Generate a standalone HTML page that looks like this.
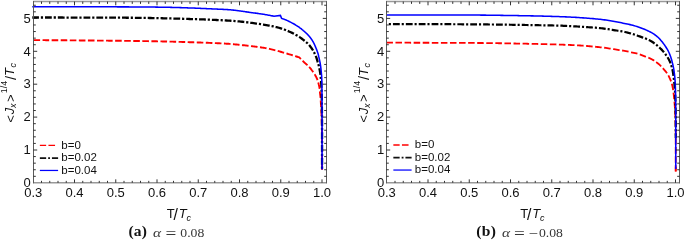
<!DOCTYPE html>
<html><head><meta charset="utf-8"><title>figure</title>
<style>html,body{margin:0;padding:0;background:#fff}svg{display:block}</style>
</head><body>
<svg width="685" height="249" viewBox="0 0 685 249" font-family='"Liberation Sans", Arial, sans-serif' fill="#111">
<rect width="685" height="249" fill="#fff"/>
<g fill="none" stroke-linejoin="round">
<path d="M33.50,40.10 L34.53,40.11 L35.56,40.11 L36.60,40.12 L37.63,40.12 L38.66,40.13 L39.69,40.14 L40.73,40.14 L41.76,40.15 L42.79,40.16 L43.82,40.16 L44.86,40.17 L45.89,40.18 L46.92,40.18 L47.95,40.19 L48.99,40.20 L50.02,40.20 L51.05,40.21 L52.08,40.22 L53.11,40.23 L54.15,40.23 L55.18,40.24 L56.21,40.25 L57.24,40.26 L58.28,40.26 L59.31,40.27 L60.34,40.28 L61.37,40.29 L62.41,40.29 L63.44,40.30 L64.47,40.31 L65.50,40.32 L66.53,40.32 L67.57,40.33 L68.60,40.34 L69.63,40.35 L70.66,40.36 L71.70,40.36 L72.73,40.37 L73.76,40.38 L74.79,40.39 L75.83,40.40 L76.86,40.41 L77.89,40.41 L78.92,40.42 L79.96,40.43 L80.99,40.44 L82.02,40.45 L83.05,40.46 L84.08,40.46 L85.12,40.47 L86.15,40.48 L87.18,40.49 L88.21,40.50 L89.25,40.51 L90.28,40.52 L91.31,40.52 L92.34,40.53 L93.38,40.54 L94.41,40.55 L95.44,40.56 L96.47,40.57 L97.50,40.58 L98.54,40.59 L99.57,40.60 L100.60,40.61 L101.63,40.61 L102.67,40.62 L103.70,40.63 L104.73,40.64 L105.76,40.65 L106.80,40.66 L107.83,40.67 L108.86,40.68 L109.89,40.69 L110.92,40.70 L111.96,40.71 L112.99,40.72 L114.02,40.73 L115.05,40.74 L116.09,40.75 L117.12,40.76 L118.15,40.77 L119.18,40.78 L120.22,40.79 L121.25,40.80 L122.28,40.81 L123.31,40.82 L124.35,40.83 L125.38,40.85 L126.41,40.86 L127.44,40.87 L128.47,40.88 L129.51,40.89 L130.54,40.91 L131.57,40.92 L132.60,40.93 L133.64,40.95 L134.67,40.96 L135.70,40.97 L136.73,40.99 L137.76,41.00 L138.80,41.02 L139.83,41.03 L140.86,41.05 L141.89,41.07 L142.93,41.08 L143.96,41.10 L144.99,41.12 L146.02,41.13 L147.05,41.15 L148.09,41.17 L149.12,41.18 L150.15,41.20 L151.18,41.22 L152.22,41.24 L153.25,41.26 L154.28,41.28 L155.31,41.29 L156.34,41.31 L157.38,41.33 L158.41,41.35 L159.44,41.37 L160.47,41.39 L161.51,41.41 L162.54,41.43 L163.57,41.46 L164.60,41.48 L165.63,41.50 L166.67,41.52 L167.70,41.55 L168.73,41.57 L169.76,41.59 L170.79,41.62 L171.83,41.65 L172.86,41.67 L173.89,41.70 L174.92,41.73 L175.95,41.76 L176.99,41.79 L178.02,41.82 L179.05,41.85 L180.08,41.88 L181.11,41.91 L182.15,41.95 L183.18,41.98 L184.21,42.01 L185.24,42.05 L186.27,42.08 L187.30,42.11 L188.34,42.15 L189.37,42.18 L190.40,42.21 L191.43,42.25 L192.46,42.28 L193.50,42.31 L194.53,42.35 L195.56,42.38 L196.59,42.41 L197.62,42.45 L198.66,42.48 L199.69,42.52 L200.72,42.55 L201.75,42.59 L202.78,42.62 L203.81,42.66 L204.85,42.70 L205.88,42.74 L206.91,42.78 L207.94,42.82 L208.97,42.86 L210.00,42.90 L211.03,42.94 L212.07,42.99 L213.10,43.03 L214.13,43.07 L215.16,43.11 L216.19,43.16 L217.23,43.20 L218.26,43.25 L219.29,43.30 L220.32,43.35 L221.35,43.40 L222.38,43.45 L223.41,43.50 L224.44,43.56 L225.48,43.62 L226.51,43.68 L227.54,43.74 L228.57,43.80 L229.59,43.87 L230.62,43.95 L231.65,44.03 L232.68,44.12 L233.71,44.22 L234.73,44.33 L235.76,44.44 L236.79,44.55 L237.82,44.66 L238.84,44.77 L239.87,44.88 L240.90,44.98 L241.92,45.09 L242.95,45.20 L243.98,45.31 L245.00,45.42 L246.03,45.54 L247.05,45.65 L248.08,45.77 L249.11,45.88 L250.13,46.00 L251.16,46.12 L252.18,46.24 L253.21,46.37 L254.23,46.49 L255.26,46.62 L256.28,46.75 L257.30,46.88 L258.33,47.02 L259.35,47.16 L260.37,47.31 L261.39,47.45 L262.42,47.61 L263.44,47.76 L264.46,47.93 L265.47,48.11 L266.49,48.29 L267.50,48.49 L268.51,48.70 L269.52,48.93 L270.52,49.16 L271.53,49.40 L272.53,49.64 L273.54,49.88 L274.54,50.13 L275.54,50.39 L276.54,50.65 L277.54,50.91 L278.53,51.18 L279.53,51.45 L280.52,51.73 L281.52,52.01 L282.51,52.29 L283.50,52.57 L284.50,52.86 L285.49,53.15 L286.48,53.44 L287.46,53.74 L288.45,54.04 L289.44,54.34 L290.43,54.64 L291.41,54.94 L292.40,55.25 L293.39,55.55 L294.37,55.85 L295.36,56.16 L296.35,56.47 L297.33,56.78 L298.32,57.09 L299.30,57.40 L299.30,57.40 L299.53,57.63 L299.76,57.86 L300.00,58.09 L300.23,58.32 L300.46,58.55 L300.69,58.78 L300.92,59.01 L301.15,59.25 L301.38,59.48 L301.61,59.71 L301.84,59.94 L302.07,60.18 L302.30,60.41 L302.52,60.65 L302.75,60.88 L302.98,61.12 L303.20,61.35 L303.43,61.59 L303.66,61.82 L303.90,62.04 L304.14,62.27 L304.38,62.49 L304.62,62.70 L304.87,62.92 L305.12,63.14 L305.36,63.35 L305.61,63.57 L305.86,63.78 L306.11,63.99 L306.36,64.21 L306.61,64.42 L306.86,64.64 L307.10,64.85 L307.34,65.07 L307.58,65.29 L307.82,65.52 L308.05,65.74 L308.28,65.97 L308.51,66.21 L308.73,66.44 L308.95,66.68 L309.16,66.92 L309.38,67.17 L309.59,67.42 L309.81,67.66 L310.02,67.92 L310.22,68.17 L310.43,68.42 L310.64,68.68 L310.84,68.94 L311.04,69.19 L311.24,69.45 L311.44,69.71 L311.64,69.98 L311.84,70.24 L312.03,70.50 L312.23,70.76 L312.42,71.03 L312.61,71.29 L312.80,71.55 L312.99,71.82 L313.18,72.09 L313.37,72.35 L313.56,72.62 L313.74,72.89 L313.93,73.17 L314.11,73.44 L314.29,73.71 L314.46,73.99 L314.64,74.27 L314.81,74.54 L314.97,74.82 L315.14,75.10 L315.30,75.39 L315.46,75.67 L315.62,75.96 L315.77,76.24 L315.93,76.53 L316.08,76.82 L316.23,77.12 L316.38,77.41 L316.52,77.70 L316.66,78.00 L316.80,78.30 L316.93,78.60 L317.06,78.90 L317.18,79.20 L317.30,79.50 L317.41,79.81 L317.52,80.11 L317.63,80.42 L317.73,80.73 L317.83,81.04 L317.93,81.35 L318.02,81.67 L318.12,81.98 L318.21,82.30 L318.29,82.62 L318.38,82.93 L318.46,83.25 L318.54,83.57 L318.62,83.88 L318.70,84.20 L318.78,84.52 L318.85,84.83 L318.93,85.15 L319.01,85.47 L319.08,85.79 L319.15,86.11 L319.22,86.43 L319.29,86.75 L319.35,87.07 L319.41,87.39 L319.47,87.71 L319.52,88.04 L319.57,88.36 L319.61,88.68 L319.65,89.00 L319.69,89.33 L319.72,89.65 L319.75,89.98 L319.78,90.30 L319.81,90.63 L319.84,90.95 L319.87,91.28 L319.90,91.61 L319.92,91.93 L319.95,92.26 L319.98,92.58 L320.01,92.91 L320.04,93.24 L320.08,93.56 L320.11,93.89 L320.15,94.21 L320.19,94.53 L320.23,94.86 L320.27,95.18 L320.31,95.51 L320.35,95.83 L320.39,96.16 L320.42,96.48 L320.46,96.81 L320.49,97.13 L320.52,97.46 L320.54,97.78 L320.57,98.11 L320.59,98.43 L320.62,98.76 L320.64,99.09 L320.66,99.41 L320.68,99.74 L320.71,100.06 L320.73,100.39 L320.75,100.72 L320.77,101.04 L320.79,101.37 L320.81,101.70 L320.83,102.02 L320.85,102.35 L320.87,102.67 L320.89,103.00 L320.90,103.33 L320.92,103.65 L320.94,103.98 L320.96,104.30 L320.98,104.63 L321.00,104.96 L321.02,105.28 L321.04,105.61 L321.06,105.94 L321.08,106.26 L321.10,106.59 L321.12,106.91 L321.14,107.24 L321.15,107.57 L321.17,107.89 L321.19,108.22 L321.21,108.55 L321.22,108.87 L321.24,109.20 L321.26,109.52 L321.28,109.85 L321.29,110.18 L321.31,110.50 L321.32,110.83 L321.34,111.16 L321.36,111.48 L321.37,111.81 L321.39,112.14 L321.40,112.46 L321.41,112.79 L321.43,113.12 L321.44,113.44 L321.45,113.77 L321.47,114.09 L321.48,114.42 L321.49,114.75 L321.50,115.07 L321.51,115.40 L321.53,115.73 L321.54,116.05 L321.55,116.38 L321.56,116.71 L321.57,117.03 L321.58,117.36 L321.59,117.69 L321.60,118.01 L321.61,118.34 L321.62,118.67 L321.63,118.99 L321.65,119.32 L321.66,119.65 L321.67,119.97 L321.68,120.30 L321.69,120.62 L321.70,120.95 L321.71,121.28 L321.72,121.60 L321.73,121.93 L321.74,122.26 L321.75,122.58 L321.76,122.91 L321.77,123.24 L321.78,123.56 L321.78,123.89 L321.79,124.22 L321.80,124.54 L321.81,124.87 L321.82,125.20 L321.83,125.52 L321.84,125.85 L321.85,126.18 L321.85,126.50 L321.86,126.83 L321.87,127.16 L321.88,127.48 L321.88,127.81 L321.89,128.14 L321.90,128.46 L321.91,128.79 L321.91,129.12 L321.92,129.44 L321.93,129.77 L321.93,130.10 L321.94,130.42 L321.94,130.75 L321.95,131.08 L321.95,131.40 L321.96,131.73 L321.96,132.06 L321.97,132.39 L321.97,132.71 L321.98,133.04 L321.98,133.37 L321.99,133.69 L321.99,134.02 L321.99,134.35 L322.00,134.67 L322.00,135.00 L322.05,169.8" stroke="#f00" stroke-width="1.9" stroke-dasharray="6.6 2.47"/>
<path d="M32.30,17.50 L33.73,17.50 L35.16,17.50 L36.59,17.50 L38.01,17.50 L39.44,17.50 L40.87,17.50 L42.30,17.50 L43.73,17.50 L45.16,17.50 L46.58,17.51 L48.01,17.51 L49.44,17.51 L50.87,17.51 L52.30,17.51 L53.73,17.51 L55.15,17.51 L56.58,17.52 L58.01,17.52 L59.44,17.52 L60.87,17.52 L62.30,17.52 L63.72,17.53 L65.15,17.53 L66.58,17.53 L68.01,17.53 L69.44,17.53 L70.87,17.54 L72.29,17.54 L73.72,17.54 L75.15,17.55 L76.58,17.55 L78.01,17.55 L79.44,17.55 L80.86,17.56 L82.29,17.56 L83.72,17.56 L85.15,17.57 L86.58,17.57 L88.01,17.57 L89.43,17.57 L90.86,17.58 L92.29,17.58 L93.72,17.58 L95.15,17.59 L96.58,17.59 L98.00,17.60 L99.43,17.60 L100.86,17.60 L102.29,17.61 L103.72,17.61 L105.15,17.62 L106.57,17.62 L108.00,17.63 L109.43,17.63 L110.86,17.64 L112.29,17.64 L113.72,17.65 L115.14,17.66 L116.57,17.66 L118.00,17.67 L119.43,17.68 L120.86,17.69 L122.29,17.70 L123.71,17.71 L125.14,17.72 L126.57,17.73 L128.00,17.74 L129.43,17.75 L130.85,17.76 L132.28,17.77 L133.71,17.78 L135.14,17.80 L136.57,17.81 L138.00,17.83 L139.42,17.85 L140.85,17.86 L142.28,17.88 L143.71,17.90 L145.14,17.92 L146.57,17.95 L147.99,17.97 L149.42,17.99 L150.85,18.01 L152.28,18.04 L153.71,18.07 L155.13,18.10 L156.56,18.13 L157.99,18.16 L159.42,18.19 L160.85,18.22 L162.27,18.26 L163.70,18.29 L165.13,18.33 L166.56,18.36 L167.99,18.40 L169.41,18.44 L170.84,18.47 L172.27,18.51 L173.70,18.54 L175.12,18.58 L176.55,18.62 L177.98,18.66 L179.41,18.69 L180.84,18.73 L182.26,18.77 L183.69,18.81 L185.12,18.85 L186.55,18.90 L187.98,18.94 L189.40,18.98 L190.83,19.03 L192.26,19.07 L193.69,19.12 L195.11,19.16 L196.54,19.21 L197.97,19.25 L199.40,19.30 L200.82,19.35 L202.25,19.40 L203.68,19.45 L205.11,19.51 L206.53,19.56 L207.96,19.62 L209.39,19.67 L210.81,19.73 L212.24,19.79 L213.67,19.85 L215.10,19.92 L216.52,19.98 L217.95,20.04 L219.38,20.11 L220.80,20.18 L222.23,20.25 L223.66,20.33 L225.08,20.41 L226.51,20.49 L227.94,20.57 L229.36,20.66 L230.79,20.75 L232.21,20.85 L233.63,20.97 L235.06,21.08 L236.48,21.21 L237.90,21.34 L239.33,21.47 L240.75,21.61 L242.17,21.76 L243.59,21.92 L245.01,22.08 L246.42,22.25 L247.84,22.43 L249.26,22.60 L250.68,22.78 L252.09,22.96 L253.51,23.15 L254.93,23.34 L256.34,23.54 L257.75,23.74 L259.17,23.94 L260.58,24.15 L261.99,24.36 L263.41,24.58 L264.82,24.80 L266.22,25.04 L267.63,25.28 L269.04,25.53 L270.44,25.79 L271.85,26.07 L273.24,26.37 L274.63,26.68 L276.03,27.01 L277.41,27.37 L278.79,27.74 L280.16,28.14 L281.52,28.57 L282.87,29.02 L284.22,29.51 L285.55,30.02 L286.88,30.56 L288.20,31.11 L289.51,31.68 L290.81,32.27 L292.10,32.89 L293.37,33.54 L294.63,34.21 L295.89,34.89 L297.14,35.59 L298.37,36.32 L299.57,37.08 L300.75,37.89 L301.90,38.74 L303.03,39.61 L304.15,40.50 L305.27,41.39 L306.38,42.29 L307.44,43.24 L308.44,44.26 L309.39,45.34 L310.29,46.45 L311.14,47.59 L311.96,48.77 L312.74,49.97 L313.47,51.20 L314.14,52.45 L314.77,53.73 L315.36,55.04 L315.91,56.36 L316.41,57.70 L316.85,59.05 L317.25,60.43 L317.64,61.81 L318.06,63.17 L318.48,64.54 L318.85,65.91 L319.17,67.31 L319.45,68.71 L319.71,70.11 L319.96,71.52 L320.19,72.93 L320.40,74.35 L320.57,75.76 L320.72,77.18 L320.85,78.60 L320.98,80.03 L321.09,81.45 L321.18,82.88 L321.26,84.30 L321.33,85.73 L321.40,87.16 L321.46,88.58 L321.52,90.01 L321.58,91.44 L321.63,92.87 L321.67,94.29 L321.71,95.72 L321.75,97.15 L321.78,98.58 L321.80,100.01 L321.82,101.43 L321.84,102.86 L321.86,104.29 L321.88,105.72 L321.90,107.15 L321.91,108.57 L321.93,110.00 L321.94,111.43 L321.96,112.86 L321.97,114.29 L321.98,115.71 L322.00,117.14 L322.01,118.57 L322.02,120.00 L322.03,121.43 L322.03,122.86 L322.04,124.29 L322.04,125.71 L322.05,127.14 L322.05,128.57 L322.05,130.00 L322.05,169.4" stroke="#000" stroke-width="2.3" stroke-dasharray="6.8 1.9 2.2 1.94" stroke-dashoffset="0.15"/>
<path d="M32.30,6.70 L33.24,6.70 L34.17,6.70 L35.11,6.70 L36.04,6.70 L36.98,6.70 L37.91,6.70 L38.85,6.70 L39.78,6.70 L40.72,6.70 L41.65,6.70 L42.59,6.70 L43.52,6.71 L44.46,6.71 L45.39,6.71 L46.33,6.71 L47.26,6.71 L48.20,6.71 L49.14,6.71 L50.07,6.71 L51.01,6.71 L51.94,6.71 L52.88,6.71 L53.81,6.72 L54.75,6.72 L55.68,6.72 L56.62,6.72 L57.55,6.72 L58.49,6.72 L59.42,6.72 L60.36,6.72 L61.29,6.73 L62.23,6.73 L63.16,6.73 L64.10,6.73 L65.04,6.73 L65.97,6.73 L66.91,6.73 L67.84,6.74 L68.78,6.74 L69.71,6.74 L70.65,6.74 L71.58,6.74 L72.52,6.74 L73.45,6.75 L74.39,6.75 L75.32,6.75 L76.26,6.75 L77.19,6.75 L78.13,6.75 L79.06,6.76 L80.00,6.76 L80.94,6.76 L81.87,6.76 L82.81,6.76 L83.74,6.77 L84.68,6.77 L85.61,6.77 L86.55,6.77 L87.48,6.77 L88.42,6.78 L89.35,6.78 L90.29,6.78 L91.22,6.78 L92.16,6.78 L93.09,6.79 L94.03,6.79 L94.96,6.79 L95.90,6.79 L96.84,6.79 L97.77,6.80 L98.71,6.80 L99.64,6.80 L100.58,6.80 L101.51,6.80 L102.45,6.81 L103.38,6.81 L104.32,6.81 L105.25,6.81 L106.19,6.81 L107.12,6.82 L108.06,6.82 L108.99,6.82 L109.93,6.82 L110.86,6.83 L111.80,6.83 L112.74,6.83 L113.67,6.84 L114.61,6.84 L115.54,6.84 L116.48,6.85 L117.41,6.85 L118.35,6.85 L119.28,6.86 L120.22,6.86 L121.15,6.86 L122.09,6.87 L123.02,6.87 L123.96,6.87 L124.89,6.88 L125.83,6.88 L126.76,6.89 L127.70,6.89 L128.64,6.89 L129.57,6.90 L130.51,6.90 L131.44,6.91 L132.38,6.91 L133.31,6.92 L134.25,6.92 L135.18,6.93 L136.12,6.93 L137.05,6.94 L137.99,6.95 L138.92,6.95 L139.86,6.96 L140.79,6.97 L141.73,6.98 L142.66,6.98 L143.60,6.99 L144.54,7.00 L145.47,7.01 L146.41,7.02 L147.34,7.02 L148.28,7.03 L149.21,7.04 L150.15,7.05 L151.08,7.06 L152.02,7.07 L152.95,7.08 L153.89,7.09 L154.82,7.10 L155.76,7.12 L156.69,7.13 L157.63,7.14 L158.56,7.15 L159.50,7.17 L160.43,7.18 L161.37,7.20 L162.30,7.21 L163.24,7.23 L164.17,7.24 L165.11,7.26 L166.05,7.27 L166.98,7.29 L167.92,7.31 L168.85,7.33 L169.79,7.35 L170.72,7.36 L171.66,7.39 L172.59,7.41 L173.53,7.43 L174.46,7.45 L175.40,7.48 L176.33,7.50 L177.27,7.53 L178.20,7.56 L179.14,7.59 L180.07,7.61 L181.01,7.64 L181.94,7.67 L182.87,7.70 L183.81,7.74 L184.74,7.77 L185.68,7.80 L186.61,7.83 L187.55,7.86 L188.48,7.90 L189.42,7.93 L190.35,7.96 L191.29,8.00 L192.22,8.03 L193.16,8.07 L194.09,8.10 L195.03,8.14 L195.96,8.18 L196.89,8.22 L197.83,8.26 L198.76,8.29 L199.70,8.33 L200.63,8.38 L201.57,8.42 L202.50,8.46 L203.44,8.50 L204.37,8.54 L205.30,8.58 L206.24,8.63 L207.17,8.67 L208.11,8.71 L209.04,8.76 L209.98,8.80 L210.91,8.84 L211.85,8.88 L212.78,8.92 L213.71,8.96 L214.65,9.00 L215.58,9.04 L216.52,9.08 L217.45,9.12 L218.39,9.16 L219.32,9.20 L220.26,9.24 L221.19,9.29 L222.13,9.33 L223.06,9.38 L224.00,9.43 L224.93,9.48 L225.86,9.53 L226.80,9.59 L227.73,9.64 L228.66,9.71 L229.59,9.77 L230.53,9.84 L231.46,9.92 L232.39,10.01 L233.32,10.11 L234.25,10.22 L235.18,10.33 L236.10,10.45 L237.03,10.57 L237.96,10.69 L238.89,10.81 L239.82,10.93 L240.74,11.05 L241.67,11.18 L242.59,11.31 L243.52,11.45 L244.45,11.59 L245.37,11.73 L246.30,11.87 L247.22,12.01 L248.15,12.14 L249.07,12.27 L250.00,12.40 L250.92,12.53 L251.85,12.65 L252.78,12.77 L253.71,12.90 L254.63,13.02 L255.56,13.14 L256.49,13.26 L257.42,13.39 L258.34,13.52 L259.27,13.65 L260.19,13.79 L261.12,13.93 L262.04,14.06 L262.97,14.21 L263.89,14.35 L264.81,14.50 L265.74,14.66 L266.66,14.82 L267.58,14.98 L268.50,15.16 L269.42,15.34 L270.33,15.52 L271.25,15.70 L272.17,15.88 L273.08,16.07 L274.00,16.26 L280.4,15.46 L281.6,18.4 L282.80,18.80 L283.27,18.96 L283.74,19.12 L284.20,19.29 L284.67,19.47 L285.13,19.65 L285.59,19.83 L286.04,20.02 L286.50,20.21 L286.95,20.41 L287.40,20.62 L287.85,20.83 L288.30,21.05 L288.74,21.27 L289.18,21.49 L289.63,21.71 L290.07,21.93 L290.51,22.16 L290.95,22.39 L291.39,22.61 L291.83,22.84 L292.27,23.08 L292.70,23.31 L293.14,23.55 L293.57,23.79 L294.00,24.04 L294.43,24.28 L294.86,24.53 L295.28,24.79 L295.71,25.04 L296.13,25.30 L296.55,25.56 L296.97,25.83 L297.39,26.09 L297.80,26.36 L298.22,26.64 L298.63,26.92 L299.03,27.20 L299.44,27.48 L299.84,27.77 L300.23,28.07 L300.63,28.36 L301.02,28.67 L301.41,28.97 L301.80,29.28 L302.18,29.60 L302.57,29.91 L302.95,30.23 L303.32,30.56 L303.70,30.88 L304.07,31.21 L304.44,31.53 L304.81,31.86 L305.18,32.20 L305.54,32.53 L305.91,32.87 L306.27,33.21 L306.64,33.55 L307.00,33.90 L307.35,34.24 L307.70,34.60 L308.04,34.95 L308.38,35.31 L308.71,35.68 L309.04,36.05 L309.35,36.42 L309.66,36.80 L309.97,37.19 L310.28,37.58 L310.58,37.98 L310.87,38.38 L311.16,38.78 L311.45,39.19 L311.73,39.60 L312.01,40.02 L312.27,40.44 L312.54,40.86 L312.79,41.28 L313.04,41.71 L313.28,42.14 L313.51,42.57 L313.74,43.01 L313.96,43.45 L314.18,43.89 L314.39,44.34 L314.60,44.79 L314.80,45.24 L315.00,45.70 L315.20,46.16 L315.39,46.62 L315.58,47.08 L315.77,47.54 L315.96,47.99 L316.14,48.45 L316.33,48.91 L316.51,49.37 L316.69,49.83 L316.87,50.30 L317.05,50.76 L317.22,51.23 L317.39,51.69 L317.55,52.16 L317.71,52.63 L317.86,53.10 L318.01,53.57 L318.14,54.05 L318.27,54.53 L318.38,55.01 L318.50,55.49 L318.61,55.97 L318.71,56.46 L318.82,56.94 L318.93,57.43 L319.04,57.91 L319.15,58.39 L319.27,58.87 L319.38,59.36 L319.49,59.84 L319.60,60.32 L319.70,60.81 L319.81,61.29 L319.90,61.78 L319.99,62.26 L320.08,62.75 L320.16,63.24 L320.24,63.72 L320.32,64.21 L320.40,64.70 L320.47,65.19 L320.55,65.68 L320.61,66.17 L320.68,66.67 L320.74,67.16 L320.81,67.65 L320.86,68.14 L320.92,68.63 L320.98,69.12 L321.03,69.62 L321.08,70.11 L321.13,70.60 L321.18,71.09 L321.22,71.59 L321.27,72.08 L321.32,72.57 L321.36,73.07 L321.41,73.56 L321.46,74.05 L321.51,74.55 L321.55,75.04 L321.60,75.53 L321.63,76.03 L321.67,76.52 L321.69,77.02 L321.71,77.51 L321.72,78.00 L321.74,78.50 L321.75,78.99 L321.77,79.49 L321.78,79.98 L321.79,80.48 L321.80,80.97 L321.81,81.47 L321.82,81.96 L321.83,82.46 L321.84,82.95 L321.85,83.45 L321.85,83.94 L321.86,84.44 L321.87,84.94 L321.88,85.43 L321.88,85.93 L321.89,86.42 L321.89,86.92 L321.90,87.41 L321.90,87.91 L321.91,88.40 L321.91,88.90 L321.92,89.39 L321.92,89.89 L321.93,90.38 L321.93,90.88 L321.94,91.37 L321.94,91.87 L321.95,92.36 L321.95,92.86 L321.95,93.35 L321.96,93.85 L321.96,94.34 L321.97,94.84 L321.97,95.34 L321.97,95.83 L321.98,96.33 L321.98,96.82 L321.98,97.32 L321.98,97.81 L321.99,98.31 L321.99,98.80 L321.99,99.30 L321.99,99.79 L322.00,100.29 L322.00,100.78 L322.00,101.28 L322.00,101.77 L322.00,102.27 L322.00,102.76 L322.00,103.26 L322.01,103.75 L322.01,104.25 L322.01,104.74 L322.01,105.24 L322.01,105.73 L322.01,106.23 L322.01,106.73 L322.02,107.22 L322.02,107.72 L322.02,108.21 L322.02,108.71 L322.02,109.20 L322.02,109.70 L322.02,110.19 L322.02,110.69 L322.03,111.18 L322.03,111.68 L322.03,112.17 L322.03,112.67 L322.03,113.16 L322.03,113.66 L322.03,114.15 L322.03,114.65 L322.03,115.14 L322.04,115.64 L322.04,116.13 L322.04,116.63 L322.04,117.12 L322.04,117.62 L322.04,118.11 L322.04,118.61 L322.04,119.11 L322.04,119.60 L322.04,120.10 L322.04,120.59 L322.04,121.09 L322.04,121.58 L322.05,122.08 L322.05,122.57 L322.05,123.07 L322.05,123.56 L322.05,124.06 L322.05,124.55 L322.05,125.05 L322.05,125.54 L322.05,126.04 L322.05,126.53 L322.05,127.03 L322.05,127.52 L322.05,128.02 L322.05,128.51 L322.05,129.01 L322.05,129.50 L322.05,130.00 L322.05,169.4" stroke="#00f" stroke-width="1.55" stroke-linejoin="miter"/>
</g>
<path d="M33.0,1.5 H327.0 M33.0,182.75 H327.0" fill="none" stroke="#999" stroke-width="1.5"/>
<path d="M33.5,1.1 V183.25 M326.5,1.1 V183.25" fill="none" stroke="#5a5a5a" stroke-width="1"/>
<path d="M41.50,182.75 v-1.9 M41.50,1.6 v2.3 M49.75,182.75 v-1.9 M49.75,1.6 v2.3 M58.00,182.75 v-1.9 M58.00,1.6 v2.3 M66.25,182.75 v-1.9 M66.25,1.6 v2.3 M74.50,182.75 v-3.4 M74.50,1.6 v3.7 M82.75,182.75 v-1.9 M82.75,1.6 v2.3 M91.00,182.75 v-1.9 M91.00,1.6 v2.3 M99.25,182.75 v-1.9 M99.25,1.6 v2.3 M107.50,182.75 v-1.9 M107.50,1.6 v2.3 M115.75,182.75 v-3.4 M115.75,1.6 v3.7 M124.00,182.75 v-1.9 M124.00,1.6 v2.3 M132.25,182.75 v-1.9 M132.25,1.6 v2.3 M140.50,182.75 v-1.9 M140.50,1.6 v2.3 M148.75,182.75 v-1.9 M148.75,1.6 v2.3 M157.00,182.75 v-3.4 M157.00,1.6 v3.7 M165.25,182.75 v-1.9 M165.25,1.6 v2.3 M173.50,182.75 v-1.9 M173.50,1.6 v2.3 M181.75,182.75 v-1.9 M181.75,1.6 v2.3 M190.00,182.75 v-1.9 M190.00,1.6 v2.3 M198.25,182.75 v-3.4 M198.25,1.6 v3.7 M206.50,182.75 v-1.9 M206.50,1.6 v2.3 M214.75,182.75 v-1.9 M214.75,1.6 v2.3 M223.00,182.75 v-1.9 M223.00,1.6 v2.3 M231.25,182.75 v-1.9 M231.25,1.6 v2.3 M239.50,182.75 v-3.4 M239.50,1.6 v3.7 M247.75,182.75 v-1.9 M247.75,1.6 v2.3 M256.00,182.75 v-1.9 M256.00,1.6 v2.3 M264.25,182.75 v-1.9 M264.25,1.6 v2.3 M272.50,182.75 v-1.9 M272.50,1.6 v2.3 M280.75,182.75 v-3.4 M280.75,1.6 v3.7 M289.00,182.75 v-1.9 M289.00,1.6 v2.3 M297.25,182.75 v-1.9 M297.25,1.6 v2.3 M305.50,182.75 v-1.9 M305.50,1.6 v2.3 M313.75,182.75 v-1.9 M313.75,1.6 v2.3 M322.00,182.75 v-3.4 M322.00,1.6 v3.7 M33.5,176.32 h2.3 M326.5,176.32 h-2.3 M33.5,169.74 h2.3 M326.5,169.74 h-2.3 M33.5,163.16 h2.3 M326.5,163.16 h-2.3 M33.5,156.58 h2.3 M326.5,156.58 h-2.3 M33.5,150.00 h3.7 M326.5,150.00 h-3.7 M33.5,143.42 h2.3 M326.5,143.42 h-2.3 M33.5,136.84 h2.3 M326.5,136.84 h-2.3 M33.5,130.26 h2.3 M326.5,130.26 h-2.3 M33.5,123.68 h2.3 M326.5,123.68 h-2.3 M33.5,117.10 h3.7 M326.5,117.10 h-3.7 M33.5,110.52 h2.3 M326.5,110.52 h-2.3 M33.5,103.94 h2.3 M326.5,103.94 h-2.3 M33.5,97.36 h2.3 M326.5,97.36 h-2.3 M33.5,90.78 h2.3 M326.5,90.78 h-2.3 M33.5,84.20 h3.7 M326.5,84.20 h-3.7 M33.5,77.62 h2.3 M326.5,77.62 h-2.3 M33.5,71.04 h2.3 M326.5,71.04 h-2.3 M33.5,64.46 h2.3 M326.5,64.46 h-2.3 M33.5,57.88 h2.3 M326.5,57.88 h-2.3 M33.5,51.30 h3.7 M326.5,51.30 h-3.7 M33.5,44.72 h2.3 M326.5,44.72 h-2.3 M33.5,38.14 h2.3 M326.5,38.14 h-2.3 M33.5,31.56 h2.3 M326.5,31.56 h-2.3 M33.5,24.98 h2.3 M326.5,24.98 h-2.3 M33.5,18.40 h3.7 M326.5,18.40 h-3.7 M33.5,11.82 h2.3 M326.5,11.82 h-2.3 M33.5,5.24 h2.3 M326.5,5.24 h-2.3" stroke="#1c1c1c" stroke-width="0.9" fill="none"/>
<text x="33.25" y="197.30" text-anchor="middle" font-size="13">0.3</text>
<text x="74.50" y="197.30" text-anchor="middle" font-size="13">0.4</text>
<text x="115.75" y="197.30" text-anchor="middle" font-size="13">0.5</text>
<text x="157.00" y="197.30" text-anchor="middle" font-size="13">0.6</text>
<text x="198.25" y="197.30" text-anchor="middle" font-size="13">0.7</text>
<text x="239.50" y="197.30" text-anchor="middle" font-size="13">0.8</text>
<text x="280.75" y="197.30" text-anchor="middle" font-size="13">0.9</text>
<text x="322.00" y="197.30" text-anchor="middle" font-size="13">1.0</text>
<text x="30.65" y="187.15" text-anchor="end" font-size="13">0</text>
<text x="30.65" y="154.25" text-anchor="end" font-size="13">1</text>
<text x="30.65" y="121.35" text-anchor="end" font-size="13">2</text>
<text x="30.65" y="88.45" text-anchor="end" font-size="13">3</text>
<text x="30.65" y="55.55" text-anchor="end" font-size="13">4</text>
<text x="30.65" y="22.65" text-anchor="end" font-size="13">5</text>
<text font-size="13"><tspan x="166.85" y="218.3">T</tspan><tspan x="173.55" y="219.7" font-size="15.8">/</tspan><tspan x="178.75" y="218.3" font-style="italic">T</tspan><tspan x="186.45" y="220.5" font-size="9" font-style="italic">c</tspan></text>
<text transform="rotate(-90)"><tspan x="-122.70" y="14.75" font-size="13">&lt;</tspan><tspan x="-114.30" y="14.15" font-size="13" font-style="italic">J</tspan><tspan x="-108.10" y="16.15" font-size="9" font-style="italic">x</tspan><tspan x="-101.90" y="14.75" font-size="13">&gt;</tspan><tspan x="-93.30" y="6.75" font-size="9">1/4</tspan><tspan x="-80.00" y="15.65" font-size="14.5">/</tspan><tspan x="-76.00" y="14.15" font-size="13" font-style="italic">T</tspan><tspan x="-67.50" y="16.45" font-size="9" font-style="italic">c</tspan></text>
<path d="M39.85,145.40 h15.2" stroke="#f00" stroke-width="1.35" stroke-dasharray="6.3 2.3 6.6 5" fill="none"/>
<path d="M39.85,158.00 h18.25" stroke="#111" stroke-width="1.75" stroke-dasharray="6.3 2.0 1.85 1.95" fill="none"/>
<path d="M39.85,170.45 h18.25" stroke="#00f" stroke-width="1.25" fill="none"/>
<text x="61.35" y="148.80" font-size="11.5">b=0</text>
<text x="61.35" y="161.40" font-size="11.5">b=0.02</text>
<text x="61.35" y="173.80" font-size="11.5">b=0.04</text>
<g fill="none" stroke-linejoin="round">
<path d="M386.40,42.70 L387.76,42.70 L389.11,42.70 L390.47,42.70 L391.82,42.70 L393.18,42.70 L394.53,42.70 L395.89,42.70 L397.24,42.71 L398.60,42.71 L399.95,42.71 L401.31,42.71 L402.66,42.71 L404.02,42.72 L405.38,42.72 L406.73,42.72 L408.09,42.72 L409.44,42.72 L410.80,42.73 L412.15,42.73 L413.51,42.73 L414.86,42.74 L416.22,42.74 L417.57,42.74 L418.93,42.74 L420.28,42.75 L421.64,42.75 L423.00,42.75 L424.35,42.76 L425.71,42.76 L427.06,42.76 L428.42,42.77 L429.77,42.77 L431.13,42.78 L432.48,42.78 L433.84,42.78 L435.19,42.79 L436.55,42.79 L437.90,42.79 L439.26,42.80 L440.62,42.80 L441.97,42.81 L443.33,42.81 L444.68,42.81 L446.04,42.82 L447.39,42.82 L448.75,42.83 L450.10,42.83 L451.46,42.84 L452.81,42.84 L454.17,42.85 L455.52,42.86 L456.88,42.86 L458.24,42.87 L459.59,42.87 L460.95,42.88 L462.30,42.89 L463.66,42.90 L465.01,42.90 L466.37,42.91 L467.72,42.92 L469.08,42.93 L470.43,42.93 L471.79,42.94 L473.14,42.95 L474.50,42.96 L475.85,42.97 L477.21,42.98 L478.57,42.99 L479.92,43.00 L481.28,43.01 L482.63,43.02 L483.99,43.04 L485.34,43.05 L486.70,43.07 L488.05,43.08 L489.41,43.10 L490.76,43.12 L492.12,43.14 L493.47,43.16 L494.83,43.17 L496.18,43.19 L497.54,43.21 L498.89,43.23 L500.25,43.25 L501.61,43.27 L502.96,43.29 L504.32,43.32 L505.67,43.34 L507.03,43.36 L508.38,43.38 L509.74,43.41 L511.09,43.43 L512.45,43.46 L513.80,43.48 L515.16,43.51 L516.51,43.53 L517.87,43.56 L519.22,43.58 L520.58,43.61 L521.93,43.64 L523.29,43.67 L524.64,43.69 L526.00,43.72 L527.35,43.75 L528.71,43.78 L530.06,43.81 L531.42,43.84 L532.77,43.88 L534.13,43.91 L535.48,43.94 L536.84,43.97 L538.19,44.01 L539.55,44.04 L540.90,44.07 L542.26,44.11 L543.61,44.14 L544.97,44.17 L546.32,44.21 L547.68,44.24 L549.03,44.28 L550.39,44.31 L551.74,44.35 L553.10,44.39 L554.45,44.43 L555.81,44.47 L557.16,44.51 L558.52,44.55 L559.87,44.60 L561.23,44.64 L562.58,44.69 L563.94,44.74 L565.29,44.79 L566.64,44.85 L568.00,44.90 L569.35,44.96 L570.71,45.02 L572.06,45.08 L573.42,45.15 L574.77,45.21 L576.12,45.28 L577.48,45.36 L578.83,45.43 L580.18,45.51 L581.53,45.60 L582.89,45.69 L584.24,45.79 L585.59,45.90 L586.94,46.01 L588.29,46.13 L589.64,46.25 L590.99,46.37 L592.34,46.50 L593.69,46.63 L595.04,46.76 L596.39,46.89 L597.74,47.02 L599.09,47.16 L600.43,47.30 L601.78,47.44 L603.13,47.60 L604.47,47.76 L605.82,47.93 L607.16,48.11 L608.50,48.31 L609.84,48.52 L611.18,48.73 L612.52,48.95 L613.85,49.17 L615.19,49.39 L616.53,49.60 L617.87,49.82 L619.21,50.03 L620.55,50.25 L621.88,50.47 L623.22,50.70 L624.55,50.94 L625.88,51.19 L627.21,51.45 L628.54,51.73 L629.87,52.01 L631.19,52.29 L632.52,52.55 L633.86,52.79 L635.19,53.06 L636.50,53.38 L637.79,53.76 L639.08,54.19 L640.35,54.65 L641.63,55.13 L642.90,55.62 L644.17,56.10 L645.44,56.57 L646.72,57.02 L648.00,57.49 L649.25,58.01 L650.48,58.58 L651.69,59.20 L652.87,59.86 L654.02,60.57 L655.14,61.33 L656.25,62.13 L657.32,62.95 L658.37,63.80 L659.40,64.69 L660.40,65.61 L661.36,66.56 L662.30,67.54 L663.20,68.56 L664.07,69.59 L664.93,70.64 L665.80,71.69 L666.66,72.75 L667.45,73.85 L668.14,75.00 L668.75,76.21 L669.31,77.45 L669.88,78.68 L670.45,79.92 L670.98,81.17 L671.42,82.44 L671.82,83.74 L672.16,85.05 L672.46,86.37 L672.73,87.70 L672.97,89.04 L673.18,90.38 L673.37,91.72 L673.54,93.06 L673.70,94.41 L673.85,95.76 L673.99,97.10 L674.12,98.45 L674.25,99.80 L674.39,101.15 L674.51,102.50 L674.62,103.85 L674.72,105.20 L674.82,106.56 L674.92,107.91 L675.01,109.26 L675.09,110.61 L675.17,111.97 L675.23,113.32 L675.29,114.67 L675.34,116.03 L675.38,117.38 L675.43,118.74 L675.47,120.09 L675.51,121.45 L675.55,122.80 L675.59,124.15 L675.62,125.51 L675.65,126.87 L675.68,128.22 L675.71,129.58 L675.72,130.93 L675.74,132.29 L675.75,133.64 L675.75,135.00 L675.7,171.4" stroke="#f00" stroke-width="1.8" stroke-dasharray="6.55 2.53"/>
<path d="M675.75,167 V171.4" stroke="#f00" stroke-width="1.7"/>
<path d="M386.50,24.20 L387.90,24.20 L389.31,24.20 L390.71,24.20 L392.12,24.20 L393.52,24.20 L394.93,24.20 L396.33,24.20 L397.73,24.20 L399.14,24.20 L400.54,24.20 L401.95,24.20 L403.35,24.20 L404.76,24.20 L406.16,24.20 L407.57,24.20 L408.97,24.20 L410.37,24.20 L411.78,24.20 L413.18,24.20 L414.59,24.20 L415.99,24.20 L417.40,24.20 L418.80,24.20 L420.20,24.20 L421.61,24.20 L423.01,24.20 L424.42,24.20 L425.82,24.20 L427.23,24.20 L428.63,24.20 L430.03,24.20 L431.44,24.20 L432.84,24.20 L434.25,24.20 L435.65,24.20 L437.06,24.20 L438.46,24.20 L439.86,24.20 L441.27,24.20 L442.67,24.20 L444.08,24.20 L445.48,24.21 L446.89,24.21 L448.29,24.21 L449.70,24.22 L451.10,24.22 L452.50,24.23 L453.91,24.23 L455.31,24.24 L456.72,24.25 L458.12,24.25 L459.53,24.26 L460.93,24.27 L462.33,24.28 L463.74,24.29 L465.14,24.30 L466.55,24.31 L467.95,24.32 L469.36,24.33 L470.76,24.34 L472.16,24.34 L473.57,24.35 L474.97,24.36 L476.38,24.37 L477.78,24.38 L479.19,24.39 L480.59,24.40 L481.99,24.41 L483.40,24.43 L484.80,24.44 L486.21,24.45 L487.61,24.46 L489.02,24.48 L490.42,24.49 L491.82,24.51 L493.23,24.52 L494.63,24.54 L496.04,24.55 L497.44,24.57 L498.85,24.59 L500.25,24.60 L501.65,24.62 L503.06,24.64 L504.46,24.66 L505.87,24.68 L507.27,24.70 L508.68,24.72 L510.08,24.74 L511.48,24.76 L512.89,24.79 L514.29,24.81 L515.70,24.83 L517.10,24.85 L518.50,24.88 L519.91,24.90 L521.31,24.92 L522.72,24.94 L524.12,24.97 L525.53,24.99 L526.93,25.02 L528.33,25.04 L529.74,25.06 L531.14,25.09 L532.55,25.11 L533.95,25.14 L535.35,25.16 L536.76,25.19 L538.16,25.22 L539.57,25.24 L540.97,25.27 L542.37,25.29 L543.78,25.32 L545.18,25.34 L546.59,25.36 L547.99,25.39 L549.40,25.41 L550.80,25.44 L552.20,25.46 L553.61,25.49 L555.01,25.52 L556.42,25.55 L557.82,25.59 L559.22,25.63 L560.63,25.67 L562.03,25.72 L563.43,25.78 L564.84,25.85 L566.24,25.93 L567.64,26.00 L569.04,26.07 L570.45,26.14 L571.85,26.21 L573.25,26.28 L574.65,26.35 L576.06,26.42 L577.46,26.50 L578.86,26.58 L580.26,26.66 L581.66,26.75 L583.07,26.85 L584.47,26.94 L585.87,27.04 L587.27,27.14 L588.67,27.23 L590.07,27.32 L591.47,27.40 L592.88,27.49 L594.28,27.57 L595.68,27.67 L597.08,27.80 L598.47,27.94 L599.87,28.10 L601.26,28.27 L602.66,28.45 L604.05,28.64 L605.44,28.83 L606.83,29.02 L608.22,29.21 L609.61,29.42 L611.00,29.63 L612.39,29.84 L613.77,30.06 L615.16,30.29 L616.55,30.51 L617.93,30.74 L619.32,30.97 L620.71,31.20 L622.09,31.45 L623.47,31.71 L624.84,31.99 L626.21,32.29 L627.58,32.61 L628.94,32.96 L630.30,33.32 L631.65,33.70 L633.00,34.10 L634.33,34.54 L635.66,35.00 L636.99,35.46 L638.31,35.92 L639.64,36.39 L640.96,36.87 L642.28,37.35 L643.60,37.82 L644.92,38.31 L646.22,38.83 L647.51,39.38 L648.80,39.97 L650.06,40.59 L651.28,41.26 L652.48,41.99 L653.65,42.78 L654.79,43.61 L655.90,44.46 L656.99,45.34 L658.05,46.27 L659.09,47.22 L660.11,48.18 L661.13,49.16 L662.12,50.15 L663.08,51.18 L663.98,52.25 L664.84,53.36 L665.67,54.50 L666.47,55.65 L667.25,56.82 L668.00,58.01 L668.69,59.23 L669.33,60.48 L669.94,61.75 L670.48,63.05 L670.95,64.37 L671.36,65.71 L671.73,67.07 L672.09,68.43 L672.43,69.79 L672.73,71.16 L672.97,72.54 L673.17,73.93 L673.36,75.33 L673.54,76.72 L673.72,78.11 L673.90,79.51 L674.07,80.90 L674.23,82.30 L674.37,83.69 L674.50,85.09 L674.62,86.49 L674.74,87.89 L674.85,89.29 L674.96,90.69 L675.05,92.09 L675.13,93.50 L675.20,94.90 L675.25,96.30 L675.30,97.70 L675.35,99.11 L675.40,100.51 L675.44,101.91 L675.47,103.32 L675.51,104.72 L675.54,106.13 L675.56,107.53 L675.59,108.94 L675.60,110.34 L675.62,111.74 L675.64,113.15 L675.65,114.55 L675.67,115.96 L675.68,117.36 L675.69,118.76 L675.71,120.17 L675.72,121.57 L675.73,122.98 L675.73,124.38 L675.74,125.79 L675.75,127.19 L675.75,128.60 L675.75,130.00 L675.75,138" stroke="#000" stroke-width="2.2" stroke-dasharray="6.8 1.95 2.1 2.03" stroke-dashoffset="6.43"/>
<path d="M386.00,15.00 L387.44,15.00 L388.88,15.00 L390.32,15.00 L391.76,15.00 L393.20,15.00 L394.63,15.00 L396.07,15.00 L397.51,15.00 L398.95,15.00 L400.39,15.00 L401.83,15.00 L403.27,15.00 L404.71,15.00 L406.15,15.00 L407.59,15.00 L409.02,15.00 L410.46,15.00 L411.90,15.00 L413.34,15.00 L414.78,15.00 L416.22,15.00 L417.66,15.00 L419.10,15.00 L420.54,15.00 L421.98,15.00 L423.42,15.00 L424.85,15.00 L426.29,15.00 L427.73,15.00 L429.17,15.00 L430.61,15.00 L432.05,15.00 L433.49,15.00 L434.93,15.00 L436.37,15.00 L437.81,15.00 L439.25,15.00 L440.68,15.00 L442.12,15.00 L443.56,15.00 L445.00,15.00 L446.44,15.00 L447.88,15.00 L449.32,15.01 L450.76,15.01 L452.20,15.01 L453.64,15.01 L455.07,15.02 L456.51,15.02 L457.95,15.02 L459.39,15.03 L460.83,15.03 L462.27,15.03 L463.71,15.04 L465.15,15.04 L466.59,15.05 L468.03,15.05 L469.47,15.06 L470.90,15.06 L472.34,15.07 L473.78,15.07 L475.22,15.08 L476.66,15.09 L478.10,15.09 L479.54,15.10 L480.98,15.11 L482.42,15.11 L483.86,15.13 L485.29,15.14 L486.73,15.16 L488.17,15.18 L489.61,15.20 L491.05,15.22 L492.49,15.24 L493.93,15.26 L495.37,15.28 L496.81,15.30 L498.24,15.33 L499.68,15.35 L501.12,15.37 L502.56,15.39 L504.00,15.41 L505.44,15.43 L506.88,15.45 L508.32,15.47 L509.76,15.49 L511.19,15.51 L512.63,15.53 L514.07,15.55 L515.51,15.58 L516.95,15.60 L518.39,15.62 L519.83,15.65 L521.27,15.67 L522.71,15.70 L524.14,15.72 L525.58,15.75 L527.02,15.78 L528.46,15.80 L529.90,15.83 L531.34,15.86 L532.78,15.89 L534.22,15.92 L535.65,15.95 L537.09,15.98 L538.53,16.02 L539.97,16.05 L541.41,16.08 L542.85,16.12 L544.29,16.16 L545.73,16.20 L547.16,16.24 L548.60,16.28 L550.04,16.32 L551.48,16.37 L552.92,16.41 L554.36,16.46 L555.79,16.51 L557.23,16.55 L558.67,16.60 L560.11,16.65 L561.55,16.71 L562.98,16.76 L564.42,16.82 L565.86,16.88 L567.30,16.94 L568.74,17.01 L570.17,17.08 L571.61,17.15 L573.05,17.23 L574.48,17.31 L575.92,17.39 L577.36,17.48 L578.79,17.57 L580.23,17.66 L581.67,17.76 L583.10,17.86 L584.54,17.97 L585.97,18.07 L587.41,18.18 L588.84,18.30 L590.28,18.41 L591.71,18.52 L593.14,18.64 L594.58,18.77 L596.01,18.90 L597.44,19.04 L598.87,19.19 L600.31,19.35 L601.74,19.51 L603.16,19.68 L604.59,19.87 L606.02,20.06 L607.44,20.26 L608.86,20.49 L610.28,20.72 L611.70,20.96 L613.12,21.21 L614.54,21.47 L615.95,21.73 L617.36,22.00 L618.78,22.28 L620.19,22.56 L621.60,22.86 L623.00,23.15 L624.41,23.45 L625.82,23.74 L627.23,24.03 L628.64,24.32 L630.05,24.63 L631.45,24.96 L632.84,25.32 L634.22,25.71 L635.60,26.13 L636.98,26.57 L638.34,27.03 L639.70,27.50 L641.05,28.00 L642.40,28.50 L643.74,29.03 L645.08,29.57 L646.41,30.14 L647.73,30.73 L649.03,31.35 L650.31,32.00 L651.56,32.68 L652.80,33.40 L654.02,34.19 L655.21,35.01 L656.36,35.88 L657.46,36.79 L658.51,37.78 L659.51,38.82 L660.49,39.88 L661.42,40.97 L662.33,42.09 L663.20,43.24 L664.06,44.39 L664.90,45.57 L665.70,46.76 L666.47,47.98 L667.21,49.21 L667.92,50.47 L668.58,51.75 L669.18,53.05 L669.74,54.38 L670.26,55.72 L670.75,57.08 L671.19,58.44 L671.61,59.82 L671.99,61.21 L672.35,62.60 L672.69,64.00 L673.00,65.41 L673.31,66.81 L673.59,68.23 L673.84,69.64 L674.06,71.06 L674.26,72.49 L674.44,73.92 L674.61,75.35 L674.77,76.78 L674.90,78.21 L675.01,79.65 L675.10,81.08 L675.17,82.52 L675.24,83.95 L675.31,85.39 L675.36,86.83 L675.41,88.27 L675.45,89.71 L675.49,91.15 L675.53,92.59 L675.56,94.02 L675.60,95.46 L675.63,96.90 L675.65,98.34 L675.67,99.78 L675.69,101.22 L675.70,102.66 L675.70,104.10 L675.71,105.54 L675.71,106.97 L675.72,108.41 L675.72,109.85 L675.73,111.29 L675.73,112.73 L675.73,114.17 L675.74,115.61 L675.74,117.05 L675.74,118.49 L675.74,119.93 L675.74,121.37 L675.75,122.80 L675.75,124.24 L675.75,125.68 L675.75,127.12 L675.75,128.56 L675.75,130.00 L675.75,169.0" stroke="#00f" stroke-width="1.55"/>
</g>
<path d="M386.0,1.5 H680.0 M386.0,182.75 H680.0" fill="none" stroke="#999" stroke-width="1.5"/>
<path d="M386.5,1.1 V183.25 M679.5,1.1 V183.25" fill="none" stroke="#5a5a5a" stroke-width="1"/>
<path d="M395.00,182.75 v-1.9 M395.00,1.6 v2.3 M403.25,182.75 v-1.9 M403.25,1.6 v2.3 M411.50,182.75 v-1.9 M411.50,1.6 v2.3 M419.75,182.75 v-1.9 M419.75,1.6 v2.3 M428.00,182.75 v-3.4 M428.00,1.6 v3.7 M436.25,182.75 v-1.9 M436.25,1.6 v2.3 M444.50,182.75 v-1.9 M444.50,1.6 v2.3 M452.75,182.75 v-1.9 M452.75,1.6 v2.3 M461.00,182.75 v-1.9 M461.00,1.6 v2.3 M469.25,182.75 v-3.4 M469.25,1.6 v3.7 M477.50,182.75 v-1.9 M477.50,1.6 v2.3 M485.75,182.75 v-1.9 M485.75,1.6 v2.3 M494.00,182.75 v-1.9 M494.00,1.6 v2.3 M502.25,182.75 v-1.9 M502.25,1.6 v2.3 M510.50,182.75 v-3.4 M510.50,1.6 v3.7 M518.75,182.75 v-1.9 M518.75,1.6 v2.3 M527.00,182.75 v-1.9 M527.00,1.6 v2.3 M535.25,182.75 v-1.9 M535.25,1.6 v2.3 M543.50,182.75 v-1.9 M543.50,1.6 v2.3 M551.75,182.75 v-3.4 M551.75,1.6 v3.7 M560.00,182.75 v-1.9 M560.00,1.6 v2.3 M568.25,182.75 v-1.9 M568.25,1.6 v2.3 M576.50,182.75 v-1.9 M576.50,1.6 v2.3 M584.75,182.75 v-1.9 M584.75,1.6 v2.3 M593.00,182.75 v-3.4 M593.00,1.6 v3.7 M601.25,182.75 v-1.9 M601.25,1.6 v2.3 M609.50,182.75 v-1.9 M609.50,1.6 v2.3 M617.75,182.75 v-1.9 M617.75,1.6 v2.3 M626.00,182.75 v-1.9 M626.00,1.6 v2.3 M634.25,182.75 v-3.4 M634.25,1.6 v3.7 M642.50,182.75 v-1.9 M642.50,1.6 v2.3 M650.75,182.75 v-1.9 M650.75,1.6 v2.3 M659.00,182.75 v-1.9 M659.00,1.6 v2.3 M667.25,182.75 v-1.9 M667.25,1.6 v2.3 M675.50,182.75 v-3.4 M675.50,1.6 v3.7 M386.5,176.32 h2.3 M679.5,176.32 h-2.3 M386.5,169.74 h2.3 M679.5,169.74 h-2.3 M386.5,163.16 h2.3 M679.5,163.16 h-2.3 M386.5,156.58 h2.3 M679.5,156.58 h-2.3 M386.5,150.00 h3.7 M679.5,150.00 h-3.7 M386.5,143.42 h2.3 M679.5,143.42 h-2.3 M386.5,136.84 h2.3 M679.5,136.84 h-2.3 M386.5,130.26 h2.3 M679.5,130.26 h-2.3 M386.5,123.68 h2.3 M679.5,123.68 h-2.3 M386.5,117.10 h3.7 M679.5,117.10 h-3.7 M386.5,110.52 h2.3 M679.5,110.52 h-2.3 M386.5,103.94 h2.3 M679.5,103.94 h-2.3 M386.5,97.36 h2.3 M679.5,97.36 h-2.3 M386.5,90.78 h2.3 M679.5,90.78 h-2.3 M386.5,84.20 h3.7 M679.5,84.20 h-3.7 M386.5,77.62 h2.3 M679.5,77.62 h-2.3 M386.5,71.04 h2.3 M679.5,71.04 h-2.3 M386.5,64.46 h2.3 M679.5,64.46 h-2.3 M386.5,57.88 h2.3 M679.5,57.88 h-2.3 M386.5,51.30 h3.7 M679.5,51.30 h-3.7 M386.5,44.72 h2.3 M679.5,44.72 h-2.3 M386.5,38.14 h2.3 M679.5,38.14 h-2.3 M386.5,31.56 h2.3 M679.5,31.56 h-2.3 M386.5,24.98 h2.3 M679.5,24.98 h-2.3 M386.5,18.40 h3.7 M679.5,18.40 h-3.7 M386.5,11.82 h2.3 M679.5,11.82 h-2.3 M386.5,5.24 h2.3 M679.5,5.24 h-2.3" stroke="#1c1c1c" stroke-width="0.9" fill="none"/>
<text x="386.75" y="196.90" text-anchor="middle" font-size="13">0.3</text>
<text x="428.00" y="196.90" text-anchor="middle" font-size="13">0.4</text>
<text x="469.25" y="196.90" text-anchor="middle" font-size="13">0.5</text>
<text x="510.50" y="196.90" text-anchor="middle" font-size="13">0.6</text>
<text x="551.75" y="196.90" text-anchor="middle" font-size="13">0.7</text>
<text x="593.00" y="196.90" text-anchor="middle" font-size="13">0.8</text>
<text x="634.25" y="196.90" text-anchor="middle" font-size="13">0.9</text>
<text x="675.50" y="196.90" text-anchor="middle" font-size="13">1.0</text>
<text x="384.15" y="187.15" text-anchor="end" font-size="13">0</text>
<text x="384.15" y="154.25" text-anchor="end" font-size="13">1</text>
<text x="384.15" y="121.35" text-anchor="end" font-size="13">2</text>
<text x="384.15" y="88.45" text-anchor="end" font-size="13">3</text>
<text x="384.15" y="55.55" text-anchor="end" font-size="13">4</text>
<text x="384.15" y="22.65" text-anchor="end" font-size="13">5</text>
<text font-size="13"><tspan x="520.35" y="218.3">T</tspan><tspan x="527.05" y="219.7" font-size="15.8">/</tspan><tspan x="532.25" y="218.3" font-style="italic">T</tspan><tspan x="539.95" y="220.5" font-size="9" font-style="italic">c</tspan></text>
<text transform="rotate(-90)"><tspan x="-122.70" y="368.25" font-size="13">&lt;</tspan><tspan x="-114.30" y="367.65" font-size="13" font-style="italic">J</tspan><tspan x="-108.10" y="369.65" font-size="9" font-style="italic">x</tspan><tspan x="-101.90" y="368.25" font-size="13">&gt;</tspan><tspan x="-93.30" y="360.25" font-size="9">1/4</tspan><tspan x="-80.00" y="369.15" font-size="14.5">/</tspan><tspan x="-76.00" y="367.65" font-size="13" font-style="italic">T</tspan><tspan x="-67.50" y="369.95" font-size="9" font-style="italic">c</tspan></text>
<path d="M393.35,145.00 h15.2" stroke="#f00" stroke-width="1.35" stroke-dasharray="6.3 2.3 6.6 5" fill="none"/>
<path d="M393.35,157.60 h18.25" stroke="#111" stroke-width="1.75" stroke-dasharray="6.3 2.0 1.85 1.95" fill="none"/>
<path d="M393.35,170.05 h18.25" stroke="#00f" stroke-width="1.25" fill="none"/>
<text x="414.85" y="148.40" font-size="11.5">b=0</text>
<text x="414.85" y="161.00" font-size="11.5">b=0.02</text>
<text x="414.85" y="173.40" font-size="11.5">b=0.04</text>
<text x="128.4" y="236.2" font-family='"Liberation Serif", "Times New Roman", serif' font-size="15.5" font-weight="bold" fill="#111" letter-spacing="0.2">(a)</text>
<g font-family='"Liberation Serif", "Times New Roman", serif' fill="#383838">
<text transform="translate(153.1,236.6) scale(1.3,1)" font-size="11.9" font-style="italic">α</text>
<text transform="translate(165.4,238.9) scale(1.2,1)" font-size="16">=</text>
<text transform="translate(180.3,236.8) scale(1,0.87)" font-size="13.7">0.08</text>
</g>
<text x="476.2" y="236.2" font-family='"Liberation Serif", "Times New Roman", serif' font-size="15.5" font-weight="bold" fill="#111" letter-spacing="0.35">(b)</text>
<g font-family='"Liberation Serif", "Times New Roman", serif' fill="#383838">
<text transform="translate(501.9,236.6) scale(1.3,1)" font-size="11.9" font-style="italic">α</text>
<text transform="translate(513.9,238.9) scale(1.2,1)" font-size="16">=</text>
<text transform="translate(528.5,238.2) scale(1.15,1)" font-size="14.5">−</text>
<text transform="translate(538.9,236.8) scale(1,0.87)" font-size="13.7">0.08</text>
</g>
</svg>
</body></html>
